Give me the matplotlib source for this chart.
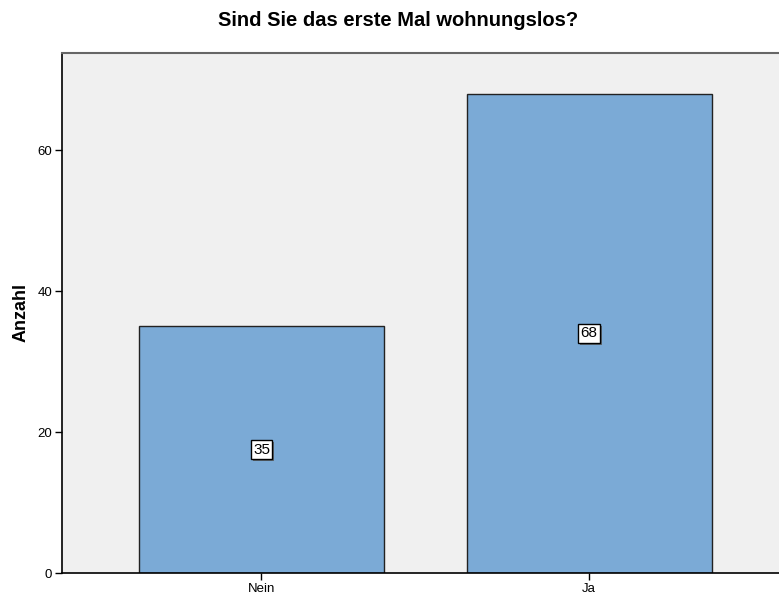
import matplotlib
matplotlib.use("Agg")
import matplotlib.pyplot as plt
import matplotlib.patheffects as pe

categories = ["Nein", "Ja"]
counts = [35, 68]
yticks = [0, 20, 40, 60]

plt.rcParams['font.family'] = ['Liberation Sans', 'DejaVu Sans']

fig = plt.figure(figsize=(7.79, 5.98), dpi=100)
ax = fig.add_axes([62/779, 25/598, 1 - 62/779, (573-53)/598])
ax.set_facecolor("#F0F0F0")

x = list(range(len(categories)))
bars = ax.bar(x, counts, width=0.748, color="#7BAAD6", edgecolor="#222222", linewidth=1.0, zorder=2)

for xi, v in zip(x, counts):
    ax.text(xi, v / 2, str(v), ha="center", va="center", fontsize=11, color="black", zorder=3,
            bbox=dict(boxstyle="square,pad=0.15", facecolor="white", edgecolor="black", linewidth=1.0,
                      path_effects=[pe.SimplePatchShadow(offset=(1.5, -1.5), shadow_rgbFace="#555555", alpha=0.8), pe.Normal()]))

ax.set_xlim(-0.609, 1.58)
ax.set_ylim(0, 73.8)
ax.set_xticks(x)
ax.set_xticklabels(categories, fontsize=9.5)
ax.set_yticks(yticks)
ax.set_yticklabels([str(t) for t in yticks], fontsize=9.5)
ax.tick_params(axis="both", length=5, width=1, color="black", pad=2)

ax.spines["right"].set_visible(False)
ax.spines["top"].set_color("#666666")
ax.spines["top"].set_linewidth(1.5)
ax.spines["left"].set_color("black")
ax.spines["left"].set_linewidth(1.2)
ax.spines["bottom"].set_color("black")
ax.spines["bottom"].set_linewidth(1.2)

ax.set_ylabel("Anzahl", fontsize=13, fontweight="bold")
ax.yaxis.set_label_coords(-(62 - 30) / 717, 0.5)
fig.text(398 / 779, 1 - 20 / 598, "Sind Sie das erste Mal wohnungslos?", ha="center", va="center",
         fontsize=14.5, fontweight="bold")

fig.savefig("out.png", dpi=100)
